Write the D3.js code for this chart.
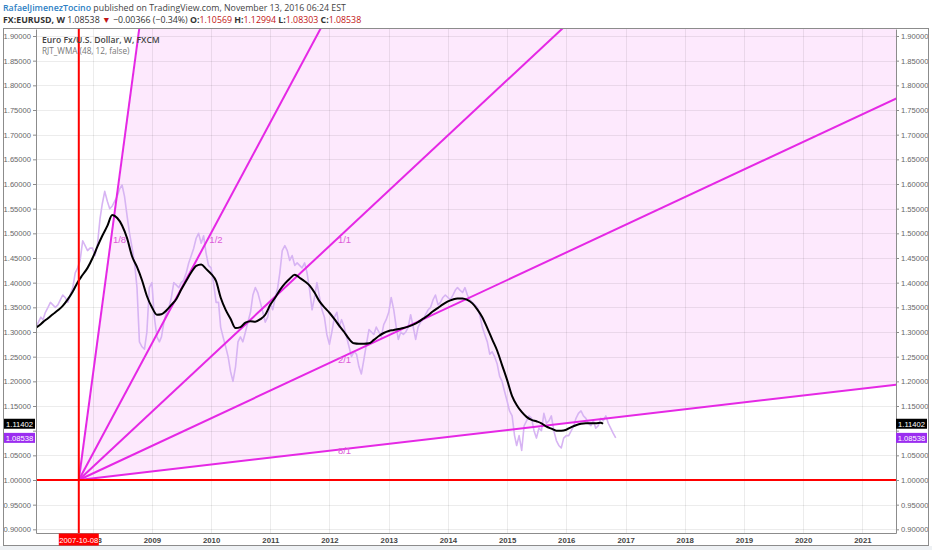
<!DOCTYPE html>
<html><head><meta charset="utf-8">
<script src="https://cdn.jsdelivr.net/npm/d3@7"></script>
<style>
html,body{margin:0;padding:0;background:#fff;}
svg{display:block;}
</style></head><body>
<svg id="chart" width="932" height="550"></svg>
<script>
// ---------- DATA ----------
// EUR/USD, semi-monthly samples (1st and 16th of each month)
const price2007 = [1.30,1.31,1.32,1.33,1.325,1.34,1.35,1.36,1.355,1.35,1.355,1.365,1.375,1.37,1.36,1.375,1.39,1.42,1.43,1.445,1.485,1.475,1.465,1.47];
const price2008 = [1.47,1.455,1.48,1.53,1.56,1.585,1.565,1.55,1.555,1.565,1.575,1.59,1.598,1.575,1.535,1.50,1.47,1.44,1.39,1.28,1.27,1.265,1.30,1.39];
const price2009 = [1.40,1.33,1.29,1.28,1.29,1.32,1.34,1.35,1.37,1.40,1.395,1.39,1.40,1.405,1.42,1.44,1.455,1.47,1.49,1.50,1.48,1.495,1.46,1.435];
const price2010 = [1.43,1.40,1.36,1.36,1.31,1.29,1.27,1.25,1.22,1.20,1.23,1.28,1.29,1.28,1.30,1.32,1.34,1.375,1.39,1.38,1.36,1.34,1.32,1.33];
const price2011 = [1.36,1.345,1.37,1.39,1.42,1.465,1.475,1.465,1.445,1.455,1.435,1.44,1.435,1.43,1.44,1.42,1.385,1.345,1.37,1.40,1.37,1.345,1.33,1.295];
const price2012 = [1.275,1.30,1.33,1.34,1.31,1.325,1.31,1.29,1.27,1.25,1.26,1.255,1.23,1.215,1.245,1.275,1.305,1.30,1.295,1.31,1.30,1.29,1.315,1.325];
const price2013 = [1.34,1.37,1.345,1.31,1.285,1.30,1.295,1.30,1.31,1.335,1.31,1.285,1.31,1.32,1.325,1.335,1.345,1.35,1.365,1.375,1.355,1.36,1.37,1.375];
const price2014 = [1.37,1.365,1.375,1.385,1.39,1.385,1.38,1.39,1.375,1.365,1.36,1.355,1.35,1.335,1.31,1.295,1.28,1.255,1.26,1.25,1.235,1.21,1.20,1.18];
const price2015 = [1.16,1.14,1.13,1.09,1.07,1.09,1.06,1.11,1.12,1.13,1.125,1.10,1.085,1.105,1.10,1.135,1.115,1.12,1.13,1.10,1.08,1.07,1.065,1.085];
const price2016 = [1.09,1.09,1.10,1.11,1.125,1.135,1.14,1.13,1.125,1.115,1.11,1.12,1.105,1.11,1.125,1.12,1.13,1.115,1.105,1.095,1.08538];

// RJT_WMA (48, 12, false), monthly samples (1st of each month)
const wma2007 = [1.305,1.312,1.32,1.328,1.336,1.344,1.353,1.366,1.382,1.401,1.416,1.430];
const wma2008 = [1.45,1.474,1.495,1.515,1.537,1.531,1.516,1.49,1.453,1.432,1.405,1.373];
const wma2009 = [1.35,1.335,1.336,1.344,1.355,1.367,1.386,1.404,1.421,1.434,1.437,1.428];
const wma2010 = [1.418,1.403,1.37,1.345,1.327,1.308,1.31,1.319,1.322,1.321,1.326,1.335];
const wma2011 = [1.355,1.37,1.385,1.398,1.408,1.416,1.41,1.403,1.394,1.38,1.362,1.35];
const wma2012 = [1.339,1.326,1.313,1.30,1.286,1.277,1.276,1.276,1.277,1.284,1.292,1.298];
const wma2013 = [1.302,1.304,1.306,1.308,1.311,1.315,1.32,1.327,1.334,1.342,1.349,1.356];
const wma2014 = [1.362,1.366,1.368,1.368,1.365,1.358,1.346,1.33,1.308,1.285,1.262,1.233];
const wma2015 = [1.203,1.17,1.152,1.138,1.128,1.122,1.119,1.115,1.108,1.104,1.10,1.10];
const wma2016 = [1.102,1.107,1.111,1.114,1.115,1.115,1.115,1.116];
const wmaLastDate = "2016-08-15";
const wmaLastValue = 1.11402;

const lastClose = 1.08538;

// Gann fan
const fanOriginDate = "2007-10-08";
const fanOriginPrice = 1.0;
const fanBoxDate = "2012-02-10";
const fanBoxPrice = 1.4865;
const fanLabels = ["1/8","1/2","1/1","2/1","8/1"];

// axes
const yTicks = [0.90,0.95,1.00,1.05,1.10,1.15,1.20,1.25,1.30,1.35,1.40,1.45,1.50,1.55,1.60,1.65,1.70,1.75,1.80,1.85,1.90];
const hiddenTickLabels = [1.10]; // covered by the price boxes in the reference
const xDomain = ["2007-01-17","2021-07-27"];
const yDomain = [0.89257, 1.91419];

// header
const author = "RafaelJimenezTocino";
const published = " published on TradingView.com, November 13, 2016 06:24 EST";
const symbolLine = {sym:"FX:EURUSD, W", last:"1.08538", chg:"\u22120.00366 (\u22120.34%)", o:"1.10569", h:"1.12994", l:"1.08303", c:"1.08538"};
const legendTitle = "Euro Fx/U.S. Dollar, W, FXCM";
const legendInd = "RJT_WMA (48, 12, false)";

// ---------- BUILD ----------
const parse = d3.utcParse("%Y-%m-%d");
const priceYears = [[2007,price2007],[2008,price2008],[2009,price2009],[2010,price2010],[2011,price2011],[2012,price2012],[2013,price2013],[2014,price2014],[2015,price2015],[2016,price2016]];
const priceData = [];
priceYears.forEach(([yr,arr])=>arr.forEach((v,k)=>{
  priceData.push({d:new Date(Date.UTC(yr, Math.floor(k/2), k%2?16:1)), v});
}));
const wmaYears = [[2007,wma2007],[2008,wma2008],[2009,wma2009],[2010,wma2010],[2011,wma2011],[2012,wma2012],[2013,wma2013],[2014,wma2014],[2015,wma2015],[2016,wma2016]];
const wmaData = [];
wmaYears.forEach(([yr,arr])=>arr.forEach((v,m)=>wmaData.push({d:new Date(Date.UTC(yr,m,1)),v})));
wmaData.push({d:parse(wmaLastDate), v:wmaLastValue});

const L=36, R=896, T=29, B=533;
const svg = d3.select("#chart");
const x = d3.scaleUtc().domain(xDomain.map(parse)).range([L,R]);
const y = d3.scaleLinear().domain(yDomain).range([B,T]);

svg.append("rect").attr("x",0).attr("y",546).attr("width",932).attr("height",4).attr("fill","#eef1f4");

const defs = svg.append("defs");
defs.append("clipPath").attr("id","plot").append("rect").attr("x",L).attr("y",T).attr("width",R-L).attr("height",B-T);

const plot = svg.append("g").attr("clip-path","url(#plot)");

// fan geometry
const o = parse(fanOriginDate), bx = parse(fanBoxDate);
const unit = (fanBoxPrice-fanOriginPrice)/(bx-o); // price per ms
const far = parse("2035-01-01");
const fans = fanLabels.map(lbl=>{
  const [a,b] = lbl.split("/").map(Number);
  const s = unit*b/a;
  let ld, lp;
  if (s>=unit){ lp=fanBoxPrice; ld=new Date(+o + (fanBoxPrice-fanOriginPrice)/s); }
  else { ld=bx; lp=fanOriginPrice + s*(bx-o); }
  return {lbl, s, ld, lp};
});
const steep = fans[0], flat = fans[fans.length-1];
// fill between steepest and flattest lines
plot.append("path")
  .attr("d", d3.line()([[x(o),y(fanOriginPrice)],[x(far),y(fanOriginPrice+steep.s*(far-o))],[x(far),y(fanOriginPrice+flat.s*(far-o))]]))
  .attr("fill","#fde9fd");

// grid
plot.selectAll(".hg").data(yTicks).join("line")
  .attr("x1",L).attr("x2",R).attr("y1",d=>Math.round(y(d))+0.5).attr("y2",d=>Math.round(y(d))+0.5)
  .attr("stroke","rgba(0,0,0,0.075)").attr("stroke-width",1);
const years = d3.utcYear.range(parse("2008-01-01"), parse("2022-01-01"));
plot.selectAll(".vg").data(years).join("line")
  .attr("y1",T).attr("y2",B).attr("x1",d=>Math.round(x(d))+0.5).attr("x2",d=>Math.round(x(d))+0.5)
  .attr("stroke","rgba(0,0,0,0.075)").attr("stroke-width",1);

// price
plot.append("path").datum(priceData)
  .attr("d", d3.line().x(d=>x(d.d)).y(d=>y(d.v)))
  .attr("fill","none").attr("stroke","#d7b4f3").attr("stroke-width",1.6).attr("stroke-linejoin","round");

// fan lines
plot.selectAll(".fan").data(fans).join("line")
  .attr("x1",x(o)).attr("y1",y(fanOriginPrice))
  .attr("x2",x(far)).attr("y2",d=>y(fanOriginPrice+d.s*(far-o)))
  .attr("stroke","#e528e5").attr("stroke-width",2);

// wma
plot.append("path").datum(wmaData)
  .attr("d", d3.line().curve(d3.curveMonotoneX).x(d=>x(d.d)).y(d=>y(d.v)))
  .attr("fill","none").attr("stroke","#000").attr("stroke-width",2).attr("stroke-linejoin","round");

// fan labels
plot.selectAll(".fl").data(fans).join("text")
  .attr("x",d=>x(d.ld)+2).attr("y",d=>y(d.lp)+3.5)
  .attr("font-family","Liberation Sans, Arial, sans-serif").attr("font-size",9.5)
  .attr("fill","#dc5ad8").text(d=>d.lbl);

// red lines
plot.append("line").attr("x1",L).attr("x2",R).attr("y1",y(fanOriginPrice)).attr("y2",y(fanOriginPrice))
  .attr("stroke","#ff0000").attr("stroke-width",2);
svg.append("line").attr("x1",x(o)).attr("x2",x(o)).attr("y1",T).attr("y2",B)
  .attr("stroke","#ff0000").attr("stroke-width",2);

// legend
const lg = svg.append("g").attr("font-family","Open Sans, Liberation Sans, sans-serif");
lg.append("text").attr("x",42).attr("y",43).attr("font-size",8.6).attr("font-weight","600").attr("fill","#444").text(legendTitle);
lg.append("text").attr("x",42).attr("y",54).attr("font-size",8.2).attr("fill","#777").text(legendInd);

// axes
const fmt = d3.format(".5f");
const tickFmt = d => hiddenTickLabels.some(h=>Math.abs(h-d)<1e-9) ? "" : fmt(d);
const axFont = "Liberation Sans, Arial, sans-serif";
function styleAxis(g){
  g.selectAll(".domain").attr("stroke","#8c8c8c");
  g.selectAll(".tick line").attr("stroke","#8c8c8c");
  g.selectAll("text").attr("font-family",axFont).attr("font-size",7.6).attr("fill","#666");
}
svg.append("g").attr("transform",`translate(${L},0)`)
  .call(d3.axisLeft(y).tickValues(yTicks).tickFormat(tickFmt).tickSize(3).tickSizeOuter(0).tickPadding(2))
  .call(styleAxis);
svg.append("g").attr("transform",`translate(${R},0)`)
  .call(d3.axisRight(y).tickValues(yTicks).tickFormat(tickFmt).tickSize(3).tickSizeOuter(0).tickPadding(2))
  .call(styleAxis);
const xa = svg.append("g").attr("transform",`translate(0,${B})`)
  .call(d3.axisBottom(x).tickValues(d3.utcYear.range(parse("2008-01-01"),parse("2022-01-01"))).tickFormat(d3.utcFormat("%Y")).tickSize(0).tickSizeOuter(0).tickPadding(4))
  .call(styleAxis);
xa.selectAll("text").attr("font-weight","bold").attr("fill","#444").attr("font-size",7.8);
xa.select(".domain").attr("stroke","#8c8c8c");

// frame
svg.append("rect").attr("x",3.5).attr("y",T+0.5-1).attr("width",925).attr("height",546-T).attr("fill","none").attr("stroke","#8c8c8c");
svg.append("line").attr("x1",L).attr("x2",R).attr("y1",T-0.5).attr("y2",T-0.5).attr("stroke","#8c8c8c");

// price boxes
function priceBox(xl, v, bg){
  const g = svg.append("g");
  g.append("rect").attr("x",xl).attr("y",y(v)-5).attr("width",31).attr("height",10).attr("fill",bg);
  g.append("text").attr("x",xl+15.5).attr("y",y(v)+3).attr("text-anchor","middle")
    .attr("font-family",axFont).attr("font-size",7.6).attr("fill","#fff").text(fmt(v));
}
priceBox(4, wmaLastValue, "#000"); priceBox(896, wmaLastValue, "#000");
priceBox(4, lastClose, "#9b2df0"); priceBox(896, lastClose, "#9b2df0");

// date box
svg.append("rect").attr("x",x(o)-20).attr("y",B+0.5).attr("width",40).attr("height",12).attr("fill","#ff0000");
svg.append("text").attr("x",x(o)).attr("y",B+9.5).attr("text-anchor","middle").attr("font-family",axFont)
  .attr("font-size",7.6).attr("fill","#fff").text(d3.utcFormat("%Y-%m-%d")(o));

// header
const hf = "Open Sans, Liberation Sans, sans-serif";
const h1 = svg.append("text").attr("x",3).attr("y",11).attr("font-family",hf).attr("font-size",8.8);
h1.append("tspan").attr("fill","#2e7fc4").attr("font-weight","600").text(author);
h1.append("tspan").attr("fill","#444").text(published);
const h2 = svg.append("text").attr("x",3).attr("y",23).attr("font-family",hf).attr("font-size",8.8).attr("fill","#333");
h2.append("tspan").attr("font-weight","bold").text(symbolLine.sym + " ");
h2.append("tspan").text(symbolLine.last + " ");
h2.append("tspan").attr("fill","#c21414").text("\u25BC");
h2.append("tspan").text(" " + symbolLine.chg + " ");
[["O:",symbolLine.o],["H:",symbolLine.h],["L:",symbolLine.l],["C:",symbolLine.c]].forEach(([k,v],i)=>{
  h2.append("tspan").attr("font-weight","bold").text((i?" ":"")+k);
  h2.append("tspan").attr("fill","#c21414").text(v);
});
</script>
</body></html>
